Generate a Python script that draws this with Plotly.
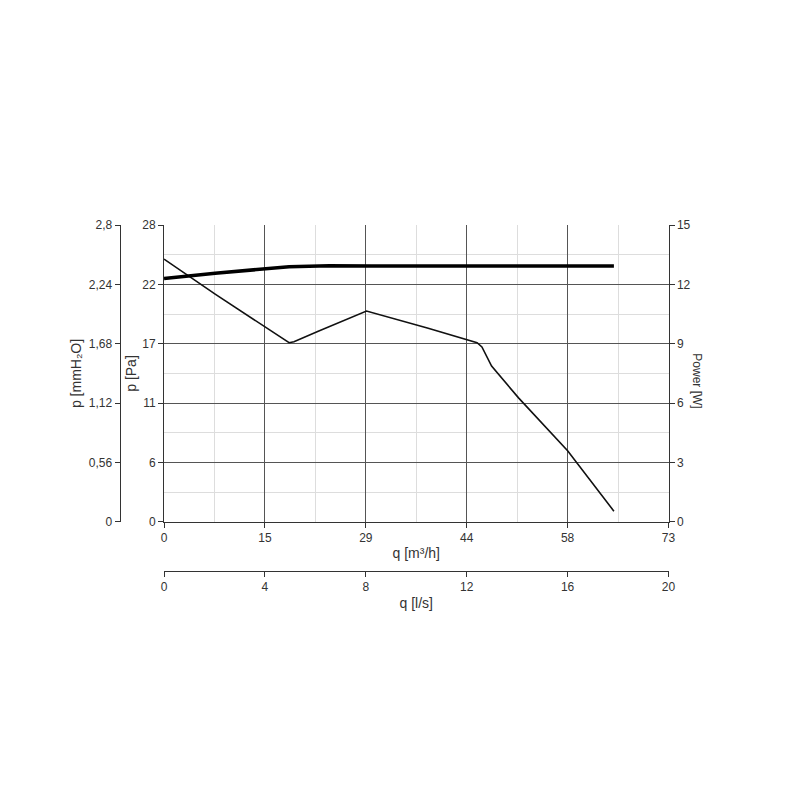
import plotly.graph_objects as go

q_p = [0, 7.4, 18.1, 18.8, 22.4, 29.3, 38.1, 45.3, 46.0, 47.4, 51.3, 58.4, 65.1]
p_pa = [24.8, 21.5, 16.9, 17.0, 18.0, 19.9, 18.3, 16.9, 16.5, 14.7, 11.7, 6.7, 1.0]
q_w = [0, 7.4, 18.1, 23.9, 30, 45, 65.1]
power = [12.3, 12.57, 12.9, 12.95, 12.93, 12.93, 12.93]

x_ticks = [0, 14.6, 29.2, 43.8, 58.4, 73]
x_text = ["0", "15", "29", "44", "58", "73"]
pa_ticks = [0, 5.6, 11.2, 16.8, 22.4, 28]
pa_text = ["0", "6", "11", "17", "22", "28"]
mm_ticks = [0, 0.56, 1.12, 1.68, 2.24, 2.8]
mm_text = ["0", "0,56", "1,12", "1,68", "2,24", "2,8"]

W = 784
def px(v): return (v - 8) / W
def py(v): return 1 - (v - 8) / W

font = dict(family="Liberation Sans, Arial", size=12, color="#333")
fig = go.Figure()
fig.add_trace(go.Scatter(x=q_p, y=p_pa, mode="lines", line=dict(color="#111", width=1.6), xaxis="x", yaxis="y"))
fig.add_trace(go.Scatter(x=q_w, y=power, mode="lines", line=dict(color="#000", width=3.5), xaxis="x", yaxis="y2"))
fig.add_trace(go.Scatter(x=[0], y=[0], mode="markers", marker=dict(opacity=0), xaxis="x2", yaxis="y3", hoverinfo="skip"))

dom_x = [px(163), px(674)]
dom_y = [py(524), py(222)]
fig.update_layout(
    width=W, height=W, margin=dict(l=0, r=0, t=0, b=0), showlegend=False,
    plot_bgcolor="white", paper_bgcolor="white", font=font,
    xaxis=dict(domain=dom_x, anchor="y", range=[0, 73], tickvals=x_ticks, ticktext=x_text,
               showgrid=True, gridcolor="#555", gridwidth=1, showline=True, linecolor="#333",
               ticks="outside", ticklen=5, tickcolor="#333", zeroline=False,
               minor=dict(tickvals=[7.3, 21.9, 36.5, 51.1, 65.7], showgrid=True, gridcolor="#ddd", ticks=""),
               title=dict(text="q [m³/h]", standoff=4)),
    yaxis=dict(domain=dom_y, anchor="x", range=[0, 28], tickvals=pa_ticks, ticktext=pa_text,
               showgrid=True, gridcolor="#555", showline=True, linecolor="#333",
               ticks="outside", ticklen=5, tickcolor="#333", zeroline=False,
               minor=dict(tickvals=[2.8, 8.4, 14, 19.6, 25.2], showgrid=True, gridcolor="#ddd", ticks=""),
               title=dict(text="p [Pa]", standoff=2)),
    yaxis2=dict(overlaying="y", side="right", anchor="x", range=[0, 15], tickvals=[0, 3, 6, 9, 12, 15],
                showgrid=False, showline=True, linecolor="#333", ticks="outside", ticklen=5, tickcolor="#333",
                zeroline=False),
    yaxis3=dict(overlaying="y", anchor="free", position=px(118), range=[0, 2.8], tickvals=mm_ticks, ticktext=mm_text,
                showgrid=False, showline=True, linecolor="#333", ticks="outside", ticklen=5, tickcolor="#333",
                zeroline=False, title=dict(text="p [mmH₂O]", standoff=2)),
    xaxis2=dict(overlaying="x", anchor="free", position=py(574), range=[0, 20], tickvals=[0, 4, 8, 12, 16, 20],
                showgrid=False, showline=True, linecolor="#333", ticks="outside", ticklen=5, tickcolor="#333",
                zeroline=False, side="bottom", title=dict(text="q [l/s]", standoff=4)),
    annotations=[dict(text="Power [W]", x=px(712), y=py(380), xref="paper", yref="paper",
                      textangle=90, showarrow=False, font=font)],
)
fig.write_html("out.html")
